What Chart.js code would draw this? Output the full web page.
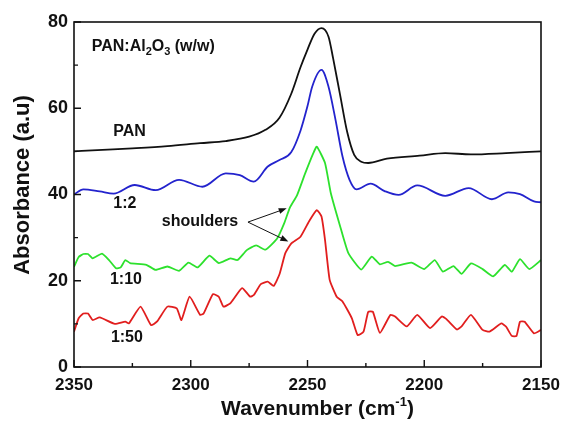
<!DOCTYPE html>
<html lang="en">
<head>
<meta charset="UTF-8">
<title>PAN:Al2O3 absorbance</title>
<style>
  body { margin: 0; background: #fff; }
  canvas { display: block; }
</style>
<script src="https://cdn.jsdelivr.net/npm/chart.js"></script>
</head>
<body>
<canvas id="chart" width="565" height="425"></canvas>
<script>
// axis ticks
const xMajorTicks = [2350, 2300, 2250, 2200, 2150];
const xMinorTicks = [2325, 2275, 2225, 2175];
const yMajorTicks = [0, 20, 40, 60, 80];
const yMinorTicks = [10, 30, 50, 70];

// PAN
const panX = [2350, 2340, 2325, 2310, 2296, 2285, 2275, 2268, 2262, 2257, 2253, 2250, 2247, 2244, 2241, 2239, 2236, 2233, 2230, 2227, 2224, 2216, 2202, 2191, 2180, 2165, 2150];
const panY = [50.0, 50.3, 50.7, 51.2, 51.9, 52.4, 53.4, 55.0, 57.8, 63.3, 69.5, 73.6, 77.3, 78.6, 76.6, 71.5, 63.0, 54.5, 49.2, 47.6, 47.3, 48.3, 49.0, 49.6, 49.3, 49.6, 50.0];

// 1:2
const r12X = [2350, 2346, 2339, 2333, 2324, 2315, 2305, 2295, 2285, 2279, 2273, 2267, 2262, 2257, 2253, 2250, 2248, 2244, 2241, 2238, 2235, 2232, 2229, 2223, 2217, 2211, 2203, 2191, 2181, 2171, 2164, 2159, 2153, 2150];
const r12Y = [40.0, 41.2, 40.7, 40.2, 42.2, 41.0, 43.4, 41.8, 44.9, 44.5, 43.0, 46.5, 48.0, 49.8, 54.8, 60.5, 65.0, 68.9, 65.0, 57.3, 48.8, 43.4, 41.2, 42.5, 40.8, 39.9, 42.1, 39.7, 41.5, 38.9, 40.5, 40.1, 38.4, 38.2];

// 1:10
const r110X = [2350, 2348, 2346, 2344, 2342, 2338, 2335, 2332, 2330, 2328, 2326, 2319, 2315, 2310, 2305, 2301, 2297, 2292, 2288, 2283, 2280, 2276, 2272, 2268, 2263, 2260, 2257.5, 2254.5, 2251, 2247.5, 2246, 2242.5, 2240, 2236, 2232.5, 2227, 2222.5, 2219, 2215.5, 2212.5, 2205.5, 2200, 2195.5, 2192, 2187.5, 2184, 2180, 2175, 2170.5, 2165.5, 2162.5, 2159, 2155, 2150];
const r110Y = [23.2, 25.5, 26.2, 26.2, 25.2, 26.3, 24.8, 22.9, 23.1, 24.8, 24.1, 23.7, 22.5, 23.3, 22.3, 24.2, 23.1, 25.8, 24.1, 25.2, 24.8, 27.1, 28.2, 27.2, 29.8, 33.3, 37.0, 39.8, 44.9, 49.6, 51.1, 47.3, 40.3, 32.6, 26.4, 22.6, 25.6, 23.8, 24.4, 23.4, 24.2, 22.7, 24.8, 22.1, 23.4, 21.6, 24.0, 22.7, 21.0, 23.7, 22.1, 25.0, 22.7, 24.8];

// 1:50
const r150X = [2350, 2348, 2346, 2344, 2342, 2339, 2332.5, 2328, 2326.5, 2321.5, 2317, 2314.5, 2310, 2306, 2304, 2300.5, 2296, 2294.5, 2290.5, 2288, 2286, 2283, 2282, 2278, 2274.5, 2273, 2270, 2267, 2264.5, 2262, 2259.5, 2257, 2253, 2249, 2246, 2244, 2242.5, 2240.5, 2237.5, 2235, 2231, 2228.5, 2226, 2224, 2222, 2219, 2214.5, 2212.5, 2207.5, 2203, 2197.5, 2192.5, 2190.5, 2186, 2184, 2180, 2175, 2172, 2167, 2165, 2162.5, 2160.5, 2159, 2157, 2153, 2150];
const r150Y = [8.2, 11.3, 12.4, 12.4, 10.9, 11.5, 10.0, 10.5, 10.1, 14.0, 9.7, 10.5, 14.0, 13.6, 10.9, 16.3, 12.1, 12.4, 16.9, 16.3, 14.0, 14.8, 15.5, 18.3, 16.3, 16.7, 19.2, 19.8, 18.8, 21.5, 26.4, 28.6, 30.2, 34.1, 36.4, 34.9, 29.5, 20.2, 16.3, 15.2, 11.3, 7.4, 8.2, 12.8, 12.8, 7.9, 12.1, 11.7, 9.4, 12.1, 9.0, 11.7, 11.1, 8.7, 9.4, 12.1, 8.6, 8.2, 10.1, 9.4, 7.2, 7.2, 10.5, 10.5, 7.8, 8.6];

const FONT = "'Liberation Sans', Arial, Helvetica, sans-serif";

function pts(xs, ys) {
    return xs.map((x, i) => ({ x: x, y: ys[i] }));
}

// text labels placed in data coordinates
const labels = [
    { text: 'PAN', x: 2333.2, y: 54.6 },
    { text: '1:2', x: 2333.2, y: 38.0 },
    { text: '1:10', x: 2334.6, y: 20.2 },
    { text: '1:50', x: 2334.2, y: 6.8 },
    { text: 'shoulders', x: 2312.4, y: 33.7 }
];
const arrowFrom = { x: 2275.5, y: 33.6 };
const arrowTips = [{ x: 2258.9, y: 36.8 }, { x: 2258.2, y: 29.1 }];

function drawRich(ctx, parts, x, y) {
    // parts: [text, size, dy]
    let cx = x;
    parts.forEach(p => {
        ctx.font = 'bold ' + p[1] + 'px ' + FONT;
        ctx.fillText(p[0], cx, y + p[2]);
        cx += ctx.measureText(p[0]).width;
    });
}
function richWidth(ctx, parts) {
    let w = 0;
    parts.forEach(p => {
        ctx.font = 'bold ' + p[1] + 'px ' + FONT;
        w += ctx.measureText(p[0]).width;
    });
    return w;
}

const decorations = {
    id: 'decorations',
    afterDraw(chart) {
        const ctx = chart.ctx;
        const a = chart.chartArea;
        const xs = chart.scales.x, ys = chart.scales.y;
        ctx.save();
        ctx.strokeStyle = '#111';
        ctx.fillStyle = '#111';

        // frame
        ctx.lineWidth = 1.6;
        ctx.strokeRect(a.left, a.top, a.right - a.left, a.bottom - a.top);

        // inward ticks
        ctx.lineWidth = 1.4;
        ctx.beginPath();
        yMajorTicks.forEach(v => { const p = ys.getPixelForValue(v); ctx.moveTo(a.left, p); ctx.lineTo(a.left + 7, p); });
        yMinorTicks.forEach(v => { const p = ys.getPixelForValue(v); ctx.moveTo(a.left, p); ctx.lineTo(a.left + 4, p); });
        xMajorTicks.forEach(v => { const p = xs.getPixelForValue(v); ctx.moveTo(p, a.bottom); ctx.lineTo(p, a.bottom - 7); });
        xMinorTicks.forEach(v => { const p = xs.getPixelForValue(v); ctx.moveTo(p, a.bottom); ctx.lineTo(p, a.bottom - 4); });
        ctx.stroke();

        // labels
        ctx.textBaseline = 'middle';
        ctx.textAlign = 'left';
        ctx.font = 'bold 16px ' + FONT;
        labels.forEach(l => {
            ctx.fillText(l.text, xs.getPixelForValue(l.x), ys.getPixelForValue(l.y));
        });

        // heading PAN:Al2O3 (w/w)
        drawRich(ctx, [['PAN:Al', 16, 0], ['2', 11, 5], ['O', 16, 0], ['3', 11, 5], [' (w/w)', 16, 0]],
            xs.getPixelForValue(2342.4), ys.getPixelForValue(74.2));

        // arrows
        ctx.lineWidth = 1;
        const fx = xs.getPixelForValue(arrowFrom.x), fy = ys.getPixelForValue(arrowFrom.y);
        arrowTips.forEach(t => {
            const tx = xs.getPixelForValue(t.x), ty = ys.getPixelForValue(t.y);
            const ang = Math.atan2(ty - fy, tx - fx);
            ctx.beginPath();
            ctx.moveTo(fx, fy);
            ctx.lineTo(tx - 5 * Math.cos(ang), ty - 5 * Math.sin(ang));
            ctx.stroke();
            ctx.beginPath();
            ctx.moveTo(tx, ty);
            ctx.lineTo(tx - 8 * Math.cos(ang) + 3 * Math.sin(ang), ty - 8 * Math.sin(ang) - 3 * Math.cos(ang));
            ctx.lineTo(tx - 8 * Math.cos(ang) - 3 * Math.sin(ang), ty - 8 * Math.sin(ang) + 3 * Math.cos(ang));
            ctx.closePath();
            ctx.fill();
        });

        // axis titles
        ctx.textBaseline = 'alphabetic';
        const xt = [['Wavenumber (cm', 21, 0], ['-1', 13, -9], [')', 21, 0]];
        const w = richWidth(ctx, xt);
        drawRich(ctx, xt, (a.left + a.right) / 2 + 10 - w / 2, 415);

        ctx.translate(29, 185);
        ctx.rotate(-Math.PI / 2);
        ctx.textAlign = 'center';
        ctx.font = 'bold 22px ' + FONT;
        ctx.fillText('Absorbance (a.u)', 0, 0);
        ctx.restore();
    }
};

const lineStyle = { fill: false, pointRadius: 0, borderWidth: 1.8 };

new Chart(document.getElementById('chart'), {
    type: 'line',
    data: {
        datasets: [
            Object.assign({ label: 'PAN', data: pts(panX, panY), borderColor: '#111', cubicInterpolationMode: 'monotone' }, lineStyle),
            Object.assign({ label: '1:2', data: pts(r12X, r12Y), borderColor: 'rgb(35,35,205)', cubicInterpolationMode: 'monotone' }, lineStyle),
            Object.assign({ label: '1:10', data: pts(r110X, r110Y), borderColor: 'rgb(45,225,45)', tension: 0.15 }, lineStyle),
            Object.assign({ label: '1:50', data: pts(r150X, r150Y), borderColor: 'rgb(225,30,30)', tension: 0.15 }, lineStyle)
        ]
    },
    options: {
        responsive: false,
        animation: false,
        devicePixelRatio: 1,
        layout: { padding: { top: 22, right: 24, bottom: 0, left: 0 } },
        plugins: { legend: { display: false }, tooltip: { enabled: false } },
        scales: {
            x: {
                type: 'linear',
                reverse: true,
                min: 2150,
                max: 2350,
                afterFit: s => { s.height = 58; s.paddingLeft = 0; s.paddingRight = 0; },
                afterBuildTicks: s => { s.ticks = xMajorTicks.map(v => ({ value: v })); },
                grid: { display: false, drawTicks: false },
                border: { display: false },
                ticks: { padding: 8, color: '#111', font: { family: FONT, size: 17, weight: 'bold' }, maxRotation: 0, callback: v => String(v) }
            },
            y: {
                min: 0,
                max: 80,
                afterFit: s => { s.width = 74; s.paddingTop = 0; s.paddingBottom = 0; },
                afterBuildTicks: s => { s.ticks = yMajorTicks.map(v => ({ value: v })); },
                grid: { display: false, drawTicks: false },
                border: { display: false },
                ticks: { padding: 6, color: '#111', font: { family: FONT, size: 18, weight: 'bold' }, callback: v => String(v) }
            }
        }
    },
    plugins: [decorations]
});
</script>
</body>
</html>
